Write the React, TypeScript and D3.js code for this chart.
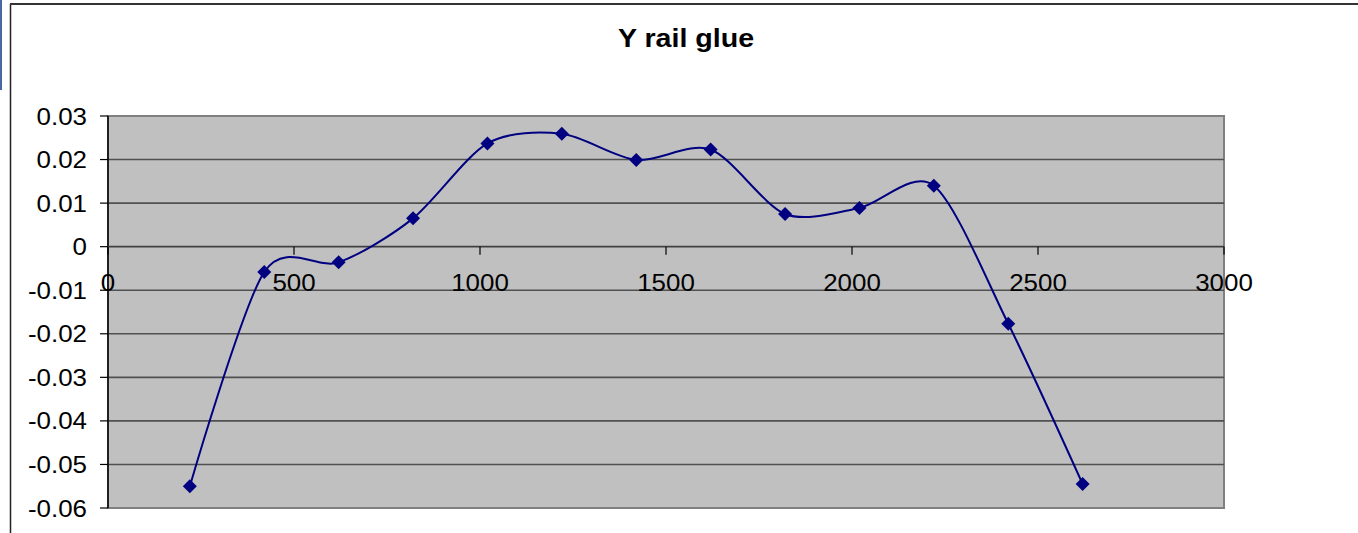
import React from "react";
import * as d3 from "d3";

const title = "Y rail glue";
const xValues = [220, 420, 620, 820, 1020, 1220, 1420, 1620, 1820, 2020, 2220, 2420, 2620];
const yValues = [-0.055, -0.0058, -0.0036, 0.0065, 0.0237, 0.0259, 0.0199, 0.0223, 0.0075, 0.0089, 0.0140, -0.0177, -0.0545];
const xTicks = [0, 500, 1000, 1500, 2000, 2500, 3000];
const yTicks = [0.03, 0.02, 0.01, 0, -0.01, -0.02, -0.03, -0.04, -0.05, -0.06];

const W = 1358;
const H = 533;
const PL = 108, PR = 1224, PT = 116, PB = 508;
const FONT = "'Liberation Sans', Arial, sans-serif";
const SX = 1.08;

export default function App() {
  const x = d3.scaleLinear().domain([0, 3000]).range([PL, PR]);
  const y = d3.scaleLinear().domain([-0.06, 0.03]).range([PB, PT]);
  const pts: [number, number][] = xValues.map((v, i) => [x(v), y(yValues[i])]);
  const line = d3.line().curve(d3.curveCardinal.tension(0.15))(pts) || "";
  const yFmt = (v: number) => (Math.abs(v) < 1e-9 ? "0" : String(+v.toFixed(2)));
  const y0 = y(0);
  const ms = 7;
  return (
    <svg width={W} height={H} style={{ position: "absolute", left: 0, top: 0, display: "block" }}>
      <rect x={0} y={0} width={W} height={H} fill="#ffffff" />
      <rect x={0} y={0} width={2} height={90} fill="#4a68a6" />
      <line x1={10.5} y1={4} x2={10.5} y2={H} stroke="#222" strokeWidth={1.5} />
      <line x1={10} y1={4} x2={W} y2={4} stroke="#333" strokeWidth={2} />
      <text
        transform={`translate(686,47) scale(1.1,1)`}
        textAnchor="middle"
        fontFamily={FONT}
        fontWeight="bold"
        fontSize={26}
        fill="#000"
      >
        {title}
      </text>
      <rect x={PL} y={PT} width={PR - PL} height={PB - PT} fill="#c0c0c0" stroke="#808080" strokeWidth={2} />
      {yTicks.map((t) => (
        <g key={"gy" + t}>
          {t !== 0.03 && t !== -0.06 && t !== 0 ? (
            <line x1={PL} x2={PR} y1={y(t)} y2={y(t)} stroke="#505050" strokeWidth={1.6} />
          ) : null}
          <line x1={PL - 8} x2={PL} y1={y(t)} y2={y(t)} stroke="#000" strokeWidth={1.2} />
          <text
            transform={`translate(87,${y(t) + 8.5}) scale(${SX},1)`}
            textAnchor="end"
            fontFamily={FONT}
            fontSize={24}
            fill="#000"
          >
            {yFmt(t)}
          </text>
        </g>
      ))}
      <line x1={PL} x2={PR} y1={PB} y2={PB} stroke="#808080" strokeWidth={2} />
      <line x1={PL} x2={PL} y1={PT} y2={PB} stroke="#000" strokeWidth={1.5} />
      <line x1={PL} x2={PR} y1={y0} y2={y0} stroke="#404040" strokeWidth={1.6} />
      {xTicks.map((t) => (
        <g key={"gx" + t}>
          <line x1={x(t)} x2={x(t)} y1={y0} y2={y0 + 8} stroke="#000" strokeWidth={1.2} />
          <text
            transform={`translate(${x(t)},${y0 + 44}) scale(${SX},1)`}
            textAnchor="middle"
            fontFamily={FONT}
            fontSize={24}
            fill="#000"
          >
            {String(t)}
          </text>
        </g>
      ))}
      <path d={line} fill="none" stroke="#000080" strokeWidth={2} />
      {pts.map(([px, py], i) => (
        <path
          key={"m" + i}
          d={`M${px},${py - ms}L${px + ms},${py}L${px},${py + ms}L${px - ms},${py}Z`}
          fill="#000080"
        />
      ))}
    </svg>
  );
}
